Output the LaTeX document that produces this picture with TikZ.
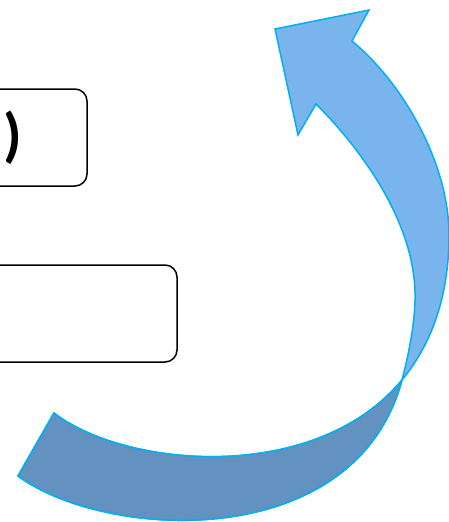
\documentclass[tikz,border=0pt]{standalone}
\usepackage{fontspec}
\setmainfont{Carlito}
\usetikzlibrary{positioning}
\definecolor{ArrowLight}{HTML}{7AB4EC}
\definecolor{ArrowDark}{HTML}{6392C1}
\definecolor{ArrowEdge}{HTML}{00B0F0}

\begin{document}
\begin{tikzpicture}[
    x=1pt, y=-1pt,
    every node/.style={font=\fontsize{60}{60}\selectfont},
    box/.style={draw, rounded corners=12pt, line width=1.5pt,
                minimum height=97pt, inner sep=0pt},
    ribbon/.style={draw=ArrowEdge, line width=1.5pt, line join=miter},
  ]
    \useasboundingbox (0,0) rectangle (449,522);
    \clip (0,0) rectangle (449,522);

    \node[box, minimum width=200pt] (upper) at (-13,137.5) {};
    \node[box, minimum width=277pt] (lower) at (38.5,313.5) {};
    \node[inner sep=0pt, font=\fontsize{60}{60}\selectfont\bfseries]
      (paren) at (12.5,137.5) {)};

    % curved arrow, light part with head
    \path[ribbon, fill=ArrowLight]
      (54,413) .. controls (125,468) and (315,485) .. (402,380)
      .. controls (435,340) and (449,290) .. (449,235)
      .. controls (449,165) and (405,85) .. (352,41)
      -- (369,10) -- (275,29) -- (298,135) -- (316,104)
      .. controls (362,150) and (417,225) .. (415,300)
      .. controls (414.5,320) and (411,345) .. (402,380)
      .. controls (355,555) and (105,540) .. (18,476) -- cycle;
    % dark tail part
    \path[ribbon, fill=ArrowDark]
      (54,413) .. controls (125,468) and (315,485) .. (402,380)
      .. controls (355,555) and (105,540) .. (18,476) -- cycle;
  \end{tikzpicture}
\end{document}
